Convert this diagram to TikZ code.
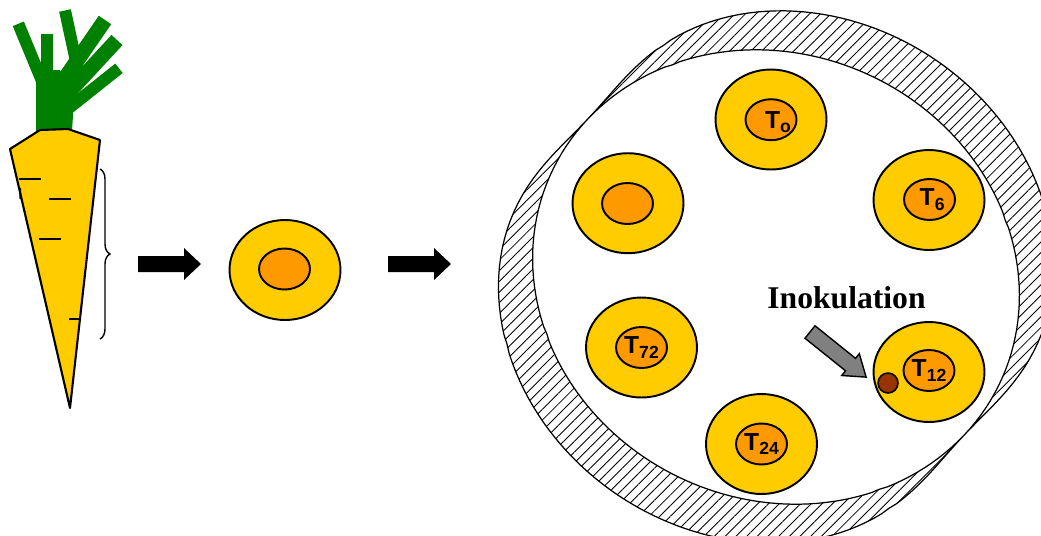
\documentclass[tikz,border=0pt]{standalone}
\usepackage{fontspec}
\setmainfont{Liberation Serif}
\newfontfamily\arialfont{Liberation Sans}
\usetikzlibrary{shapes.geometric, decorations.pathreplacing, patterns.meta}

\definecolor{sliceyellow}{HTML}{FFCC00}
\definecolor{coreorange}{HTML}{FF9900}
\definecolor{leafgreen}{HTML}{008000}
\definecolor{dotbrown}{HTML}{993300}
\definecolor{arrowgray}{HTML}{808080}

\tikzset{
  slice/.style={ellipse, draw, line width=1.1pt, fill=sliceyellow,
    minimum width=2.22cm, minimum height=2cm, inner sep=0pt},
  core/.style={ellipse, draw, line width=1.1pt, fill=coreorange,
    minimum width=1.02cm, minimum height=0.82cm, inner sep=0pt},
  tlabel/.style={font=\arialfont\bfseries\fontsize{14}{14}\selectfont, inner sep=0pt},
  leaf/.style={draw=leafgreen, line width=0.24cm},
  nick/.style={line width=1.1pt},
  % dish wall: inner radius (in 100 units) and wall thickness, by angle
  declare function={
    rin(\t) = 1/sqrt((cos(\t-25))^2/6.135 + (sin(\t-25))^2/4.951);
    wall(\t) = 60*(sin(\t-40))^2/((sin(\t-40))^2 + 0.3);
  },
}

% T with a lowered index
\newcommand\tsub[1]{T\raisebox{-2.5pt}{\fontsize{10}{10}\selectfont #1}}

\begin{document}
\begin{tikzpicture}[x=0.02cm, y=-0.02cm]
    \def\innerdish{plot[domain=0:360, samples=181]
      ({776 + 100*rin(\x)*cos(\x)}, {277 + 100*rin(\x)*sin(\x)}) -- cycle}
    \def\outerdish{plot[domain=0:360, samples=181]
      ({776 + (100*rin(\x) + wall(\x))*cos(\x)},
       {277 + (100*rin(\x) + wall(\x))*sin(\x)}) -- cycle}
    \def\fatarrow{++(0,-8) -- ++(46,0) -- ++(0,-8) -- ++(17,16)
      -- ++(-17,16) -- ++(0,-8) -- ++(-46,0) -- cycle}
    \def\grayarrow{++(0,-8) -- ++(52,0) -- ++(0,-6) -- ++(20,14)
      -- ++(-20,14) -- ++(0,-6) -- ++(-52,0) -- cycle}

    \clip (0,0) rectangle (1041,535);

    % carrot: leaves first, then the root on top
    \fill[leafgreen] (36,70) -- (36,131) -- (72,131) -- (74,100) -- (60,70) -- cycle;
    \draw[leaf] (18.3,23.8) -- (54,110);
    \draw[leaf] (47,34) -- (47,128);
    \draw[leaf] (65,10.5) -- (80,80);
    \draw[leaf, line width=0.3cm] (105,20) -- (50,100);
    \draw[leaf, line width=0.3cm] (117,40) -- (56,106);
    \draw[leaf] (119,68.3) -- (64,112);
    \filldraw[fill=sliceyellow, line width=1.2pt, line join=round]
      (10,149) -- (40,130) -- (68,129) -- (100,140) -- (70,408) -- cycle;
    \draw[nick] (19,179) -- (41,179);
    \draw[nick] (20,188) -- (20.5,199);
    \draw[nick] (49,199) -- (71,199);
    \draw[nick] (39,239) -- (61,239);
    \draw[nick] (69,319) -- (79,319);
    \draw[decorate, decoration={brace, amplitude=0.2cm}, line width=0.8pt]
      (100,169) -- (100,339);

    % arrows and a single slice
    \fill (138,264) \fatarrow;
    \node[slice] (slA) at (285,270) {};
    \node[core] (coA) at (284.5,269) {};
    \fill (388,264) \fatarrow;

    % petri dish
    \fill[pattern={Lines[angle=45, distance=4.3pt, line width=0.5pt]}] \outerdish;
    \fill[white] \innerdish;
    \draw[line width=0.7pt] \outerdish \innerdish;

    % slices in the dish
    \node[slice] (sl0) at (771,119.5) {};
    \node[core] (co0) at (771,119.7) {};
    \node[tlabel] (lb0) at ([xshift=4pt, yshift=-1.5pt]co0) {\tsub{o}};
    \node[slice] (slB) at (628,203.2) {};
    \node[core] (coB) at (627.5,203.5) {};
    \node[slice] (sl6) at (929,200) {};
    \node[core] (co6) at (929.5,199.5) {};
    \node[tlabel] (lb6) at ([xshift=1.5pt]co6) {\tsub{6}};
    \node[slice] (sl12) at (929,372) {};
    \node[core] (co12) at (929,370.5) {};
    \node[tlabel] (lb12) at (co12) {\tsub{12}};
    \node[slice] (sl24) at (761.5,444) {};
    \node[core] (co24) at (761.5,444) {};
    \node[tlabel] (lb24) at (co24) {\tsub{24}};
    \node[slice] (sl72) at (641.5,347.5) {};
    \node[core] (co72) at (641.5,347.5) {};
    \node[tlabel] (lb72) at (co72) {\tsub{72}};

    % inoculation spot
    \node[circle, draw, line width=0.9pt, fill=dotbrown, minimum size=0.4cm,
      inner sep=0pt] (spot) at (888,383) {};
    \coordinate (tail) at (810,332);
    \begin{scope}[shift={(tail)}, rotate=-38.8]
      \filldraw[fill=arrowgray, line width=0.8pt, line join=miter] (0,0) \grayarrow;
    \end{scope}
    \node[font=\bfseries\fontsize{18}{18}\selectfont, anchor=base, inner sep=0pt]
      (inok) at (846.5,308) {Inokulation};
\end{tikzpicture}
\end{document}
